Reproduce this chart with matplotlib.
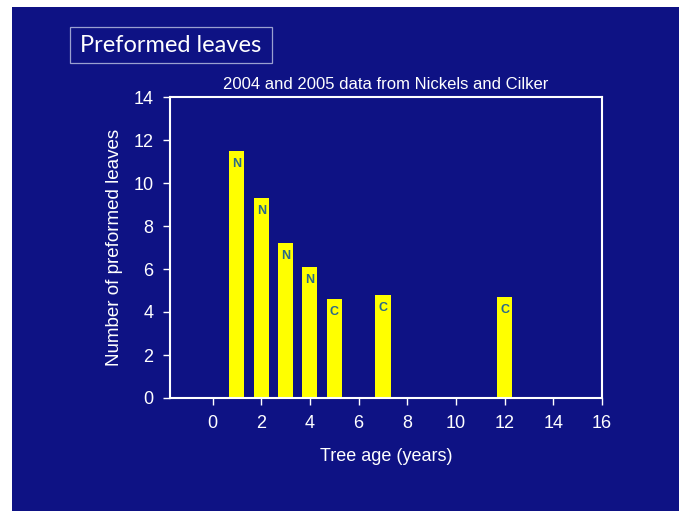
import matplotlib
matplotlib.use('Agg')
import matplotlib.pyplot as plt
from matplotlib.patches import Rectangle

# data
ages = [1, 2, 3, 4, 5, 7, 12]
leaves = [11.5, 9.3, 7.2, 6.1, 4.6, 4.8, 4.7]
sources = ['N', 'N', 'N', 'N', 'C', 'C', 'C']

navy = '#0e1284'
yellow = '#ffff00'
letter = '#2a6a8a'

plt.rcParams['font.family'] = ['Liberation Sans', 'DejaVu Sans']

fig = plt.figure(figsize=(6.79, 5.11), dpi=100, facecolor='white')
fig.patches.append(Rectangle((12 / 679, 0), 1, 1 - 7 / 511, transform=fig.transFigure,
                             facecolor=navy, edgecolor='none', zorder=-10))

# title box
fig.patches.append(Rectangle((70 / 679, 1 - 63 / 511), 202 / 679, 36 / 511,
                             transform=fig.transFigure, facecolor='none',
                             edgecolor='#9aa0d0', linewidth=0.9))
fig.text(171 / 679, 1 - 46 / 511, 'Preformed leaves', color='white', fontsize=17,
         family=['Lato', 'DejaVu Sans'], ha='center', va='center')

ax = fig.add_axes([170 / 679, 1 - 398 / 511, 432 / 679, 301 / 511])
ax.set_facecolor(navy)
ax.bar(ages, leaves, width=0.62, color=yellow, zorder=2)
for x, y, s in zip(ages, leaves, sources):
    ax.text(x, y - 0.6, s, color=letter, fontsize=9, fontweight='bold',
            ha='center', va='center', zorder=3)

ax.set_xlim(-1.75, 16)
ax.set_ylim(0, 14)
ax.set_xticks(range(0, 17, 2))
ax.set_yticks(range(0, 15, 2))
for sp in ax.spines.values():
    sp.set_color('white')
    sp.set_linewidth(1.5)
ax.tick_params(colors='white', labelsize=13, length=5, width=1, pad=7)
ax.set_xlabel('Tree age (years)', color='white', fontsize=13, labelpad=12)
ax.set_ylabel('Number of preformed leaves', color='white', fontsize=13.5, labelpad=7)
ax.set_title('2004 and 2005 data from Nickels and Cilker', color='white', fontsize=12, pad=6)

fig.savefig('out.png', dpi=100, facecolor=fig.get_facecolor())
